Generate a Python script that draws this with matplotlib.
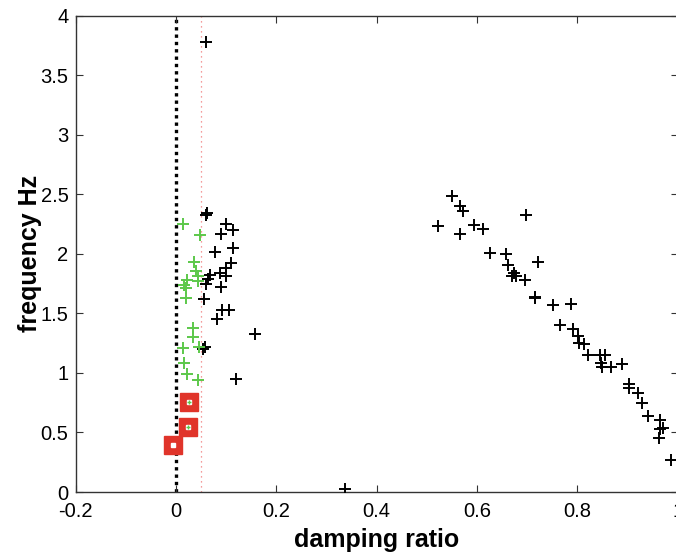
import matplotlib
matplotlib.use("Agg")
import matplotlib.pyplot as plt

plt.rcParams["font.family"] = ["Liberation Sans", "DejaVu Sans"]

# ----------------------------------------
# DATA
# ----------------------------------------
# black poles
black_x = [0.060, 0.063, 0.060, 0.100, 0.114, 0.089, 0.113, 0.078, 0.100, 0.110,
           0.087, 0.100, 0.068, 0.065, 0.060, 0.089, 0.056, 0.091, 0.106, 0.081,
           0.158, 0.059, 0.054, 0.119, 0.3375,
           0.550, 0.566, 0.572, 0.523, 0.566, 0.594, 0.613, 0.697, 0.625, 0.657,
           0.661, 0.722, 0.674, 0.669, 0.678, 0.695, 0.716, 0.716, 0.751, 0.788,
           0.766, 0.791, 0.801, 0.803, 0.814, 0.822, 0.846, 0.856, 0.848, 0.850,
           0.867, 0.890, 0.903, 0.903, 0.921, 0.928, 0.941, 0.965, 0.965, 0.970,
           0.963, 0.987]
black_y = [3.776, 2.345, 2.330, 2.250, 2.200, 2.170, 2.050, 2.015, 1.880, 1.920,
           1.840, 1.810, 1.820, 1.790, 1.750, 1.720, 1.620, 1.530, 1.530, 1.450,
           1.330, 1.220, 1.200, 0.950, 0.025,
           2.485, 2.400, 2.360, 2.236, 2.170, 2.240, 2.210, 2.330, 2.010, 1.995,
           1.910, 1.930, 1.840, 1.816, 1.816, 1.780, 1.640, 1.630, 1.570, 1.580,
           1.400, 1.370, 1.310, 1.250, 1.240, 1.150, 1.150, 1.150, 1.085, 1.050,
           1.050, 1.075, 0.910, 0.870, 0.830, 0.745, 0.640, 0.605, 0.526, 0.535,
           0.450, 0.270]

# green poles
green_x = [0.014, 0.048, 0.036, 0.040, 0.045, 0.045, 0.023, 0.017, 0.020, 0.020,
           0.034, 0.034, 0.014, 0.046, 0.017, 0.022, 0.045]
green_y = [2.250, 2.155, 1.930, 1.860, 1.810, 1.770, 1.780, 1.740, 1.715, 1.630,
           1.380, 1.300, 1.210, 1.220, 1.080, 0.990, 0.940]

# highlighted poles (red squares)
sel_x = [0.027, 0.024, -0.006]
sel_y = [0.758, 0.548, 0.397]

zeta_zero = 0.0
zeta_limit = 0.05

# ----------------------------------------
# PLOT
# ----------------------------------------
fig = plt.figure(figsize=(6.76, 5.52), dpi=100)
ax = fig.add_axes([75.5 / 676, 60 / 552, (677.7 - 75.5) / 676, (492 - 15.7) / 552])

ax.axvline(zeta_zero, color="black", linestyle=(0, (1, 1.2)), linewidth=2.4, zorder=1)
ax.axvline(zeta_limit, color="#f07a7a", linestyle=(0, (1, 3)), linewidth=0.9, zorder=1)

ax.plot(black_x, black_y, linestyle="none", marker="+", color="black",
        markersize=8, markeredgewidth=1.4, zorder=3)
ax.plot(green_x, green_y, linestyle="none", marker="+", color="#5cc84a",
        markersize=8, markeredgewidth=1.4, zorder=3)

ax.plot(sel_x, sel_y, linestyle="none", marker="s", markersize=12.5,
        markerfacecolor="#e0342a", markeredgecolor="#e0342a", zorder=4)
ax.plot(sel_x, sel_y, linestyle="none", marker="s", markersize=3.5,
        markerfacecolor="white", markeredgecolor="white", zorder=5)
ax.plot(sel_x[:2], sel_y[:2], linestyle="none", marker="+", markersize=3,
        color="#5cc84a", markeredgewidth=1.0, zorder=6)

ax.set_xlim(-0.2, 1.0)
ax.set_ylim(0, 4)
ax.set_xticks([-0.2, 0, 0.2, 0.4, 0.6, 0.8, 1.0])
ax.set_xticklabels(["-0.2", "0", "0.2", "0.4", "0.6", "0.8", "1"])
ax.set_yticks([0, 0.5, 1, 1.5, 2, 2.5, 3, 3.5, 4])
ax.set_yticklabels(["0", "0.5", "1", "1.5", "2", "2.5", "3", "3.5", "4"])

ax.tick_params(direction="in", top=True, right=True, length=5, width=0.8,
               color="#333333", labelsize=14.5)
ax.tick_params(axis="x", pad=7)
ax.tick_params(axis="y", pad=5)
for s in ax.spines.values():
    s.set_color("#333333")
    s.set_linewidth(1.0)

ax.set_xlabel("damping ratio", fontsize=18, fontweight="bold", labelpad=5)
ax.set_ylabel("frequency Hz", fontsize=18, fontweight="bold", labelpad=-1)

fig.savefig("out.png", dpi=100)
